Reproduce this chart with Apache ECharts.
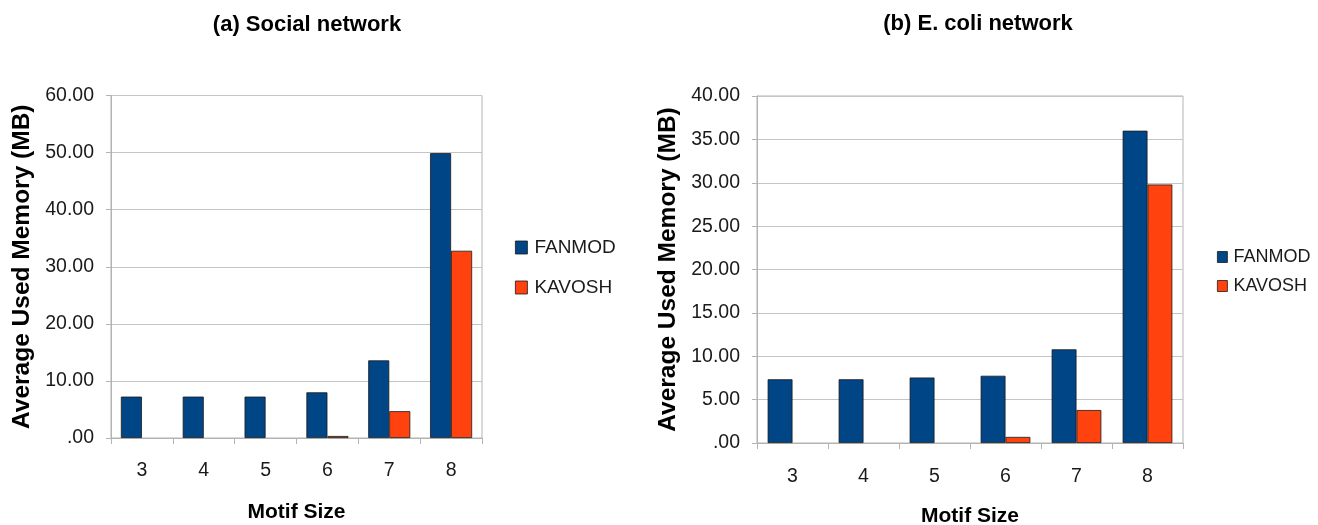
<!DOCTYPE html>
<html>
<head>
<meta charset="utf-8">
<script src="https://cdn.jsdelivr.net/npm/echarts@6/dist/echarts.min.js"></script>
<style>
html,body{margin:0;padding:0;background:#fff;}
#c{width:1318px;height:525px;}
</style>
</head>
<body>
<div id="c"></div>
<script>
var categories = ['3','4','5','6','7','8'];
var seriesNames = ['FANMOD','KAVOSH'];
var socialFanmod = [7.25, 7.25, 7.25, 8.0, 13.6, 49.9];
var socialKavosh = [0, 0, 0, 0.35, 4.7, 32.8];
var ecoliFanmod = [7.35, 7.35, 7.55, 7.75, 10.8, 36.0];
var ecoliKavosh = [0, 0, 0, 0.7, 3.8, 29.8];
var socialTicks = ['.00','10.00','20.00','30.00','40.00','50.00','60.00'];
var ecoliTicks = ['.00','5.00','10.00','15.00','20.00','25.00','30.00','35.00','40.00'];

var FONT = '"Liberation Sans", Arial, sans-serif';
var colors = ['#004586', '#ff420e'];

function yAxis(gridIndex, max, interval, ticks) {
  return {
    type: 'value', gridIndex: gridIndex, min: 0, max: max, interval: interval,
    name: 'Average Used Memory (MB)', nameLocation: 'middle', nameGap: 76, nameMoveOverlap: false,
    nameTextStyle: {fontFamily: FONT, fontWeight: 'bold', fontSize: 24.5, color: '#000'},
    axisLine: {show: true, lineStyle: {color: '#b3b3b3'}},
    axisTick: {show: true, length: 5, lineStyle: {color: '#b3b3b3'}},
    axisLabel: {fontFamily: FONT, fontSize: 19.5, color: '#1a1a1a', margin: 17,
      formatter: function (v) { return ticks[Math.round(v / interval)]; }},
    splitLine: {show: true, lineStyle: {color: '#c4c4c4'}}
  };
}
function xAxis(gridIndex, gap, margin) {
  return {
    type: 'category', gridIndex: gridIndex, data: categories,
    name: 'Motif Size', nameLocation: 'middle', nameGap: gap, nameMoveOverlap: false,
    nameTextStyle: {fontFamily: FONT, fontWeight: 'bold', fontSize: 21, color: '#000'},
    axisLine: {show: true, lineStyle: {color: '#b3b3b3'}},
    axisTick: {show: true, length: 6, lineStyle: {color: '#b3b3b3'}},
    axisLabel: {fontFamily: FONT, fontSize: 19.5, color: '#1a1a1a', margin: margin}
  };
}
function bar(name, data, xi, yi, ci, gap) {
  return {
    type: 'bar', name: name, xAxisIndex: xi, yAxisIndex: yi,
    data: data.map(function (v) { return {value: v, itemStyle: {borderWidth: v > 0 ? 0.8 : 0}}; }),
    barGap: '0%', barCategoryGap: gap,
    itemStyle: {color: colors[ci], borderColor: '#1a1a1a'},
    emphasis: {disabled: true}
  };
}

var chart = echarts.init(document.getElementById('c'), null, {renderer: 'canvas'});
chart.setOption({
  animation: false,
  backgroundColor: '#fff',
  title: [
    {text: '(a) Social network', left: 302, top: 9, textAlign: 'center',
     textStyle: {fontFamily: FONT, fontWeight: 'bold', fontSize: 22, color: '#000'}},
    {text: '(b) E. coli network', left: 973, top: 8, textAlign: 'center',
     textStyle: {fontFamily: FONT, fontWeight: 'bold', fontSize: 22, color: '#000'}}
  ],
  legend: [
    {data: seriesNames.slice(), left: 510, top: 233, orient: 'vertical',
     itemWidth: 12, itemHeight: 13, itemGap: 21, icon: 'rect',
     textStyle: {fontFamily: FONT, fontSize: 19, color: '#1a1a1a', padding: [0, 0, 0, 2]},
     selectedMode: false, itemStyle: {borderColor: '#1a1a1a', borderWidth: 0.8}},
    {data: seriesNames.slice(), left: 1212, top: 243, orient: 'vertical',
     itemWidth: 10, itemHeight: 11, itemGap: 11, icon: 'rect',
     textStyle: {fontFamily: FONT, fontSize: 18, color: '#1a1a1a', padding: [0, 0, 0, 1]},
     selectedMode: false, itemStyle: {borderColor: '#1a1a1a', borderWidth: 0.8}}
  ],
  grid: [
    {left: 111, top: 95.5, width: 371, height: 342.5, show: true, borderColor: '#b3b3b3', borderWidth: 1,
     backgroundColor: 'transparent', containLabel: false, outerBoundsMode: 'none'},
    {left: 757, top: 96, width: 426, height: 347, show: true, borderColor: '#b3b3b3', borderWidth: 1,
     backgroundColor: 'transparent', containLabel: false, outerBoundsMode: 'none'}
  ],
  xAxis: [xAxis(0, 64, 23), xAxis(1, 63, 24)],
  yAxis: [yAxis(0, 60, 10, socialTicks), yAxis(1, 40, 5, ecoliTicks)],
  series: [
    bar(seriesNames[0], socialFanmod, 0, 0, 0, '32%'),
    bar(seriesNames[1], socialKavosh, 0, 0, 1, '32%'),
    bar(seriesNames[0], ecoliFanmod, 1, 1, 0, '30%'),
    bar(seriesNames[1], ecoliKavosh, 1, 1, 1, '30%')
  ]
});
</script>
</body>
</html>
